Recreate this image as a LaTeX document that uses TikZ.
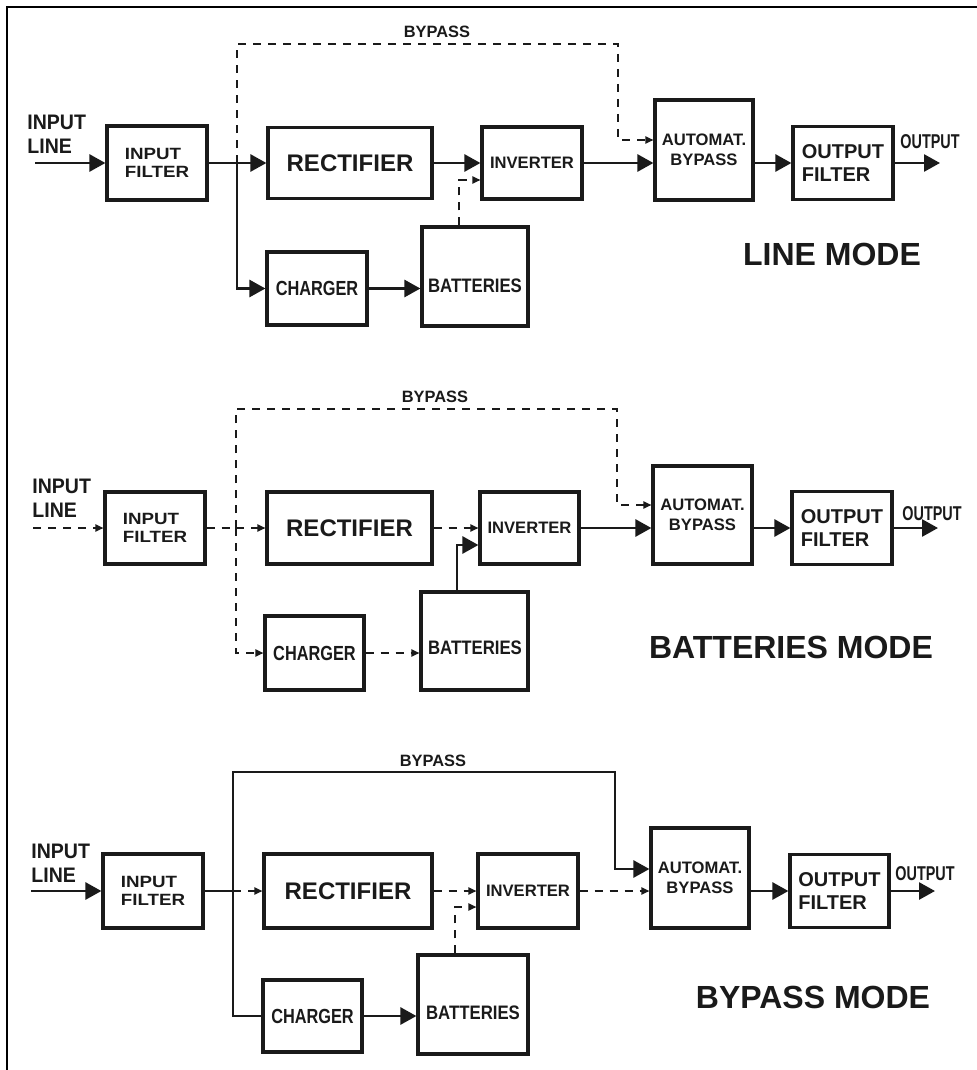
\documentclass[tikz,border=0pt]{standalone}
\usepackage{fontspec}
\setmainfont{Liberation Sans}
\newfontfamily\fwide{Liberation Sans}[FakeStretch=1.15]
\newfontfamily\fnarrowA{Liberation Sans}[FakeStretch=0.8]
\newfontfamily\fnarrowB{Liberation Sans}[FakeStretch=0.86]
\newfontfamily\fnarrowC{Liberation Sans}[FakeStretch=0.72]
\newfontfamily\fnarrowD{Liberation Sans}[FakeStretch=0.93]
\usetikzlibrary{arrows.meta}
\definecolor{ink}{HTML}{1A1A1A}
\tikzset{
  blk/.style={draw=ink, line width=1.6pt, inner sep=0pt, anchor=center, text=ink},
  sz/.style 2 args={minimum width=#1*0.5pt, minimum height=#2*0.5pt},
  txt/.style={inner sep=0pt, text=ink},
  solidc/.style={draw=ink, line width=1.35pt},
  bigarr/.style={solidc, -{Triangle[length=8pt,width=8.5pt]}},
  dashc/.style={draw=ink, line width=0.75pt, dash pattern=on 4pt off 3.5pt},
  smallarr/.style={dashc, -{Triangle[length=4pt,width=3.6pt]}},
  fIF/.style={font=\fwide\bfseries\fontsize{8.15}{8.85}\selectfont, align=left},
  fREC/.style={font=\bfseries\fontsize{12}{14}\selectfont},
  fINV/.style={font=\bfseries\fontsize{8.3}{10}\selectfont, align=center},
  fOF/.style={font=\bfseries\fontsize{10}{11.7}\selectfont, align=left},
  fCH/.style={font=\fnarrowA\bfseries\fontsize{10.2}{12}\selectfont},
  fBAT/.style={font=\fnarrowB\bfseries\fontsize{9.75}{12}\selectfont},
  fOUT/.style={font=\fnarrowC\bfseries\fontsize{10}{12}\selectfont},
  fIN/.style={font=\fnarrowD\bfseries\fontsize{10.5}{11.7}\selectfont, align=left},
  fBY/.style={font=\bfseries\fontsize{8.2}{10}\selectfont},
  fMODE/.style={font=\bfseries\fontsize{16}{19}\selectfont},
}
\begin{document}
\begin{tikzpicture}[x=0.5pt,y=-0.5pt]
\useasboundingbox (0,0) rectangle (977,1070);
\fill[white] (0,0) rectangle (977,1070);
\draw[black, line width=1pt] (7,1070) -- (7,7) -- (977,7);

% ================= LINE MODE =================
\node[blk, sz={100}{74}, fIF] (inf1) at (157,163) {INPUT\\FILTER};
\node[blk, sz={164}{71}, fREC] (rec1) at (350,163) {RECTIFIER};
\node[blk, sz={100}{72}, fINV] (inv1) at (532,163) {INVERTER};
\node[blk, sz={98}{100}, fINV] (aut1) at (704,150) {AUTOMAT.\\BYPASS};
\node[blk, sz={100}{73}, fOF] (out1) at (843,163) {OUTPUT\\FILTER};
\node[blk, sz={100}{73}, fCH] (chg1) at (317,288.5) {CHARGER};
\node[blk, sz={106}{99}] (bat1) at (475,276.5) {};
\node[txt, fBAT] (bat1t) at (475,286) {BATTERIES};

\coordinate (in1) at (35,163);
\coordinate (j1) at (237,163);
\coordinate (o1) at (940,163);
\coordinate (b1a) at (237,44);
\coordinate (b1b) at (618,44);
\coordinate (b1c) at (618,140);
\coordinate (k1) at (459,180);

\draw[bigarr] (in1) -- (inf1);
\draw[solidc] (inf1) -- (j1);
\draw[bigarr] (j1) -- (rec1);
\draw[bigarr] (j1) |- (chg1);
\draw[bigarr] (chg1) -- (bat1.west |- chg1.east);
\draw[smallarr] (bat1.north -| k1) -- (k1) -- (inv1.west |- k1);
\draw[bigarr] (rec1) -- (inv1);
\draw[bigarr] (inv1) -- (aut1.west |- inv1.east);
\draw[bigarr] (aut1.east |- out1.west) -- (out1.west);
\draw[bigarr] (out1) -- (o1);
\draw[smallarr] (j1) -- (b1a) -- (b1b) -- (b1c) -- (aut1.west |- b1c);

\node[txt, fIN, anchor=north west] (il1) at (27,115) {INPUT\\LINE};
\node[txt, fBY] (by1) at (437,32) {BYPASS};
\node[txt, fOUT] (ol1) at (930,142) {OUTPUT};
\node[txt, fMODE] (m1) at (832,254) {LINE MODE};

% ================= BATTERIES MODE =================
\node[blk, sz={100}{72}, fIF] (inf2) at (155,528) {INPUT\\FILTER};
\node[blk, sz={165}{72}, fREC] (rec2) at (349.5,528) {RECTIFIER};
\node[blk, sz={99}{72}, fINV] (inv2) at (529.5,528) {INVERTER};
\node[blk, sz={99}{98}, fINV] (aut2) at (702.5,515) {AUTOMAT.\\BYPASS};
\node[blk, sz={100}{73}, fOF] (out2) at (842,528) {OUTPUT\\FILTER};
\node[blk, sz={99}{74}, fCH] (chg2) at (314.5,653) {CHARGER};
\node[blk, sz={107}{98}] (bat2) at (474.5,641) {};
\node[txt, fBAT] (bat2t) at (475,648) {BATTERIES};

\coordinate (in2) at (33,528);
\coordinate (j2) at (236,528);
\coordinate (o2) at (938,528);
\coordinate (b2a) at (236,409);
\coordinate (b2b) at (617,409);
\coordinate (b2c) at (617,505);
\coordinate (k2) at (457,545);

\draw[smallarr] (in2) -- (inf2);
\draw[dashc] (inf2) -- (j2);
\draw[smallarr] (j2) -- (rec2);
\draw[smallarr] (j2) |- (chg2);
\draw[smallarr] (chg2) -- (bat2.west |- chg2.east);
\draw[bigarr] (bat2.north -| k2) -- (k2) -- (inv2.west |- k2);
\draw[smallarr] (rec2) -- (inv2);
\draw[bigarr] (inv2) -- (aut2.west |- inv2.east);
\draw[bigarr] (aut2.east |- out2.west) -- (out2.west);
\draw[bigarr] (out2) -- (o2);
\draw[smallarr] (j2) -- (b2a) -- (b2b) -- (b2c) -- (aut2.west |- b2c);

\node[txt, fIN, anchor=north west] (il2) at (32,479) {INPUT\\LINE};
\node[txt, fBY] (by2) at (435,397) {BYPASS};
\node[txt, fOUT] (ol2) at (932,514) {OUTPUT};
\node[txt, fMODE] (m2) at (791,647) {BATTERIES MODE};

% ================= BYPASS MODE =================
\node[blk, sz={100}{74}, fIF] (inf3) at (153,891) {INPUT\\FILTER};
\node[blk, sz={168}{74}, fREC] (rec3) at (348,891) {RECTIFIER};
\node[blk, sz={100}{74}, fINV] (inv3) at (528,891) {INVERTER};
\node[blk, sz={98}{100}, fINV] (aut3) at (700,878) {AUTOMAT.\\BYPASS};
\node[blk, sz={99}{73}, fOF] (out3) at (839.5,891) {OUTPUT\\FILTER};
\node[blk, sz={99}{72}, fCH] (chg3) at (312.5,1016) {CHARGER};
\node[blk, sz={110}{99}] (bat3) at (473,1004.5) {};
\node[txt, fBAT] (bat3t) at (473,1013) {BATTERIES};

\coordinate (in3) at (31,891);
\coordinate (j3) at (233,891);
\coordinate (o3) at (935,891);
\coordinate (b3a) at (233,772);
\coordinate (b3b) at (615,772);
\coordinate (b3c) at (615,869);
\coordinate (k3) at (455,907);

\draw[bigarr] (in3) -- (inf3);
\draw[solidc] (inf3) -- (j3);
\draw[smallarr] (j3) -- (rec3);
\draw[solidc] (j3) |- (chg3);
\draw[bigarr] (chg3) -- (bat3.west |- chg3.east);
\draw[smallarr] (bat3.north -| k3) -- (k3) -- (inv3.west |- k3);
\draw[smallarr] (rec3) -- (inv3);
\draw[smallarr] (inv3) -- (aut3.west |- inv3.east);
\draw[bigarr] (aut3.east |- out3.west) -- (out3.west);
\draw[bigarr] (out3) -- (o3);
\draw[bigarr] (j3) -- (b3a) -- (b3b) -- (b3c) -- (aut3.west |- b3c);

\node[txt, fIN, anchor=north west] (il3) at (31,844) {INPUT\\LINE};
\node[txt, fBY] (by3) at (433,761) {BYPASS};
\node[txt, fOUT] (ol3) at (925,874) {OUTPUT};
\node[txt, fMODE] (m3) at (813,997) {BYPASS MODE};
\end{tikzpicture}
\end{document}
